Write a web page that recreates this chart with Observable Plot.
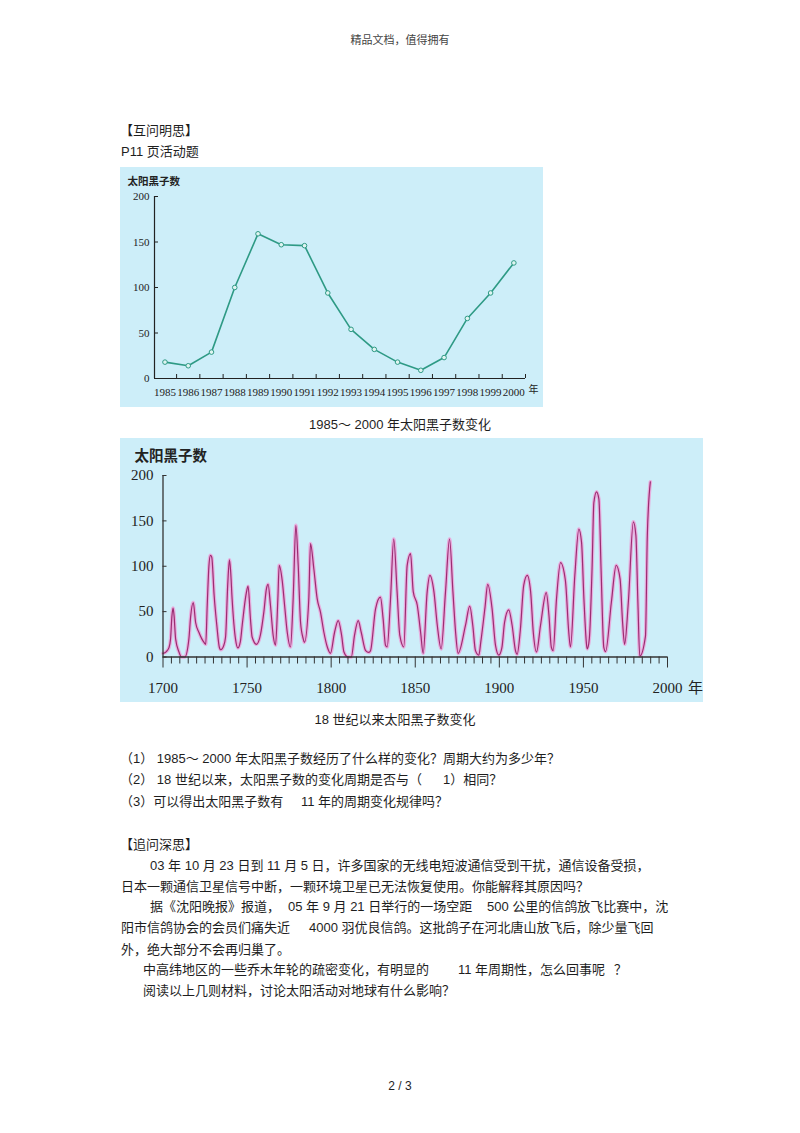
<!DOCTYPE html>
<html>
<head>
<meta charset="utf-8">
<script src="https://cdn.jsdelivr.net/npm/d3@7"></script>
<script src="https://cdn.jsdelivr.net/npm/@observablehq/plot@0.6"></script>
<style>
  html, body { margin: 0; padding: 0; background: #fff; }
  #page { position: relative; width: 800px; height: 1133px; overflow: hidden;
          font-family: "Liberation Sans", "Noto Sans CJK SC", sans-serif; color: #1e1e1e; }
  .t { position: absolute; white-space: pre; font-size: 13px; line-height: 13px; height: 13px; }
  .c { transform: translateX(-50%); }
  #chart1 { position: absolute; left: 120px; top: 167px; }
  #chart2 { position: absolute; left: 120px; top: 438px; }
</style>
</head>
<body>
<div id="page">
  <div class="t c" style="left:400px; top:35px; font-size:11px; line-height:11px; color:#444;">精品文档，值得拥有</div>

  <div class="t" style="left:120px; top:124px;">【互问明思】</div>
  <div class="t" style="left:121px; top:145px;">P11 页活动题</div>

  <div id="chart1"></div>
  <div class="t c" style="left:400px; top:418px;">1985～ 2000 年太阳黑子数变化</div>

  <div id="chart2"></div>
  <div class="t c" style="left:395px; top:713px;">18 世纪以来太阳黑子数变化</div>

  <div class="t" style="left:120px; top:752px;">（1） 1985～ 2000 年太阳黑子数经历了什么样的变化？周期大约为多少年？</div>
  <div class="t" style="left:120px; top:773px;">（2） 18 世纪以来，太阳黑子数的变化周期是否与（</div>
  <div class="t" style="left:443px; top:773px;">1）相同？</div>
  <div class="t" style="left:120px; top:795px;">（3）可以得出太阳黑子数有</div>
  <div class="t" style="left:301px; top:795px;">11 年的周期变化规律吗？</div>

  <div class="t" style="left:120px; top:838px;">【追问深思】</div>
  <div class="t" style="left:150px; top:859px;">03 年 10 月 23 日到 11 月 5 日，许多国家的无线电短波通信受到干扰，通信设备受损，</div>
  <div class="t" style="left:121px; top:880px;">日本一颗通信卫星信号中断，一颗环境卫星已无法恢复使用。你能解释其原因吗？</div>
  <div class="t" style="left:150px; top:900px;">据《沈阳晚报》报道，</div>
  <div class="t" style="left:288px; top:900px;">05 年 9 月 21 日举行的一场空距</div>
  <div class="t" style="left:487px; top:900px;">500 公里的信鸽放飞比赛中，沈</div>
  <div class="t" style="left:121px; top:921px;">阳市信鸽协会的会员们痛失近</div>
  <div class="t" style="left:309px; top:921px;">4000 羽优良信鸽。这批鸽子在河北唐山放飞后，除少量飞回</div>
  <div class="t" style="left:121px; top:943px;">外，绝大部分不会再归巢了。</div>
  <div class="t" style="left:143px; top:963px;">中高纬地区的一些乔木年轮的疏密变化，有明显的</div>
  <div class="t" style="left:458px; top:963px;">11 年周期性，怎么回事呢</div>
  <div class="t" style="left:614px; top:963px;">？</div>
  <div class="t" style="left:143px; top:984px;">阅读以上几则材料，讨论太阳活动对地球有什么影响？</div>

  <div class="t c" style="left:400px; top:1080px; font-size:12px;">2 / 3</div>
</div>

<script>
// ---------- Chart 1 data: 1985–2000 sunspot numbers ----------
const years1 = [1985, 1986, 1987, 1988, 1989, 1990, 1991, 1992, 1993, 1994, 1995, 1996, 1997, 1998, 1999, 2000];
const spots1 = [18, 14, 29, 100, 159, 147, 146, 94, 54, 32, 18, 9, 23, 66, 94, 127];
const yTicks1 = [0, 50, 100, 150, 200];

// ---------- Chart 2 data: sunspot numbers since 1700 ----------
const years2 = [
  1700, 1702, 1703.5, 1704.5, 1705.3, 1706, 1706.6, 1707.5, 1709.5, 1711, 1713,
  1715.4, 1716.4, 1718, 1719.4, 1721.4, 1724.4, 1725.4,
  1726.3, 1727.3, 1728.2, 1729, 1730.4, 1732, 1733.6, 1734.4,
  1736, 1737.2, 1738.5, 1739.5, 1740.2, 1741.1, 1743.1, 1744.5,
  1746, 1747.1, 1749.5, 1750.6, 1752, 1753, 1755.6,
  1758, 1760, 1761.5, 1762.5, 1763.9, 1765.5, 1766.9,
  1768.3, 1769.1, 1770.9, 1772.3, 1773.9, 1775.8,
  1777.4, 1779, 1780.4, 1781.8, 1783.4, 1784.1,
  1786.7, 1787.7, 1789.7, 1791.7, 1793.7, 1795.7, 1797.7, 1799.6,
  1802, 1804.2, 1806.2, 1807.6, 1810, 1812,
  1813.9, 1816.1, 1817.9, 1820.5, 1822.4,
  1823.4, 1826.4, 1829.3, 1830.9, 1832.3, 1833.3,
  1835.3, 1837.2, 1839.2, 1840.8, 1843.2,
  1845.2, 1847.2, 1848.8, 1851.2, 1853.2, 1854.7,
  1857.1, 1858.7, 1861.1, 1863.1, 1865.4,
  1868, 1870.4, 1872.4, 1874, 1875.5,
  1879.9, 1882.4, 1884.2, 1885.8, 1887.8,
  1889, 1891.5, 1893.1, 1895.7, 1897.7, 1899.7,
  1901.5, 1903.1, 1905.6, 1907.6, 1909.6, 1910.6,
  1912.5, 1914.5, 1916.6, 1918.6, 1920.2, 1922.1,
  1924.5, 1927.9, 1929.5, 1930.9, 1932,
  1934, 1936.4, 1939.3, 1941.3, 1942.3,
  1944.9, 1947.3, 1948.9, 1950.3, 1951.9, 1952.3,
  1953.5, 1955.2, 1956.2, 1957.8, 1959.2, 1960.6, 1962.1, 1963.2,
  1966.6, 1969.5, 1971.8, 1973.3, 1974.5,
  1976.7, 1979.7, 1981.2, 1982.4, 1983.5,
  1986.9, 1988, 1989.8
];
const spots2 = [
  4, 6, 10, 20, 45, 54, 45, 20, 5.5, 0, 0,
  20, 44, 60, 38, 27, 16, 14,
  57, 100, 112, 110, 68, 35, 10, 8,
  12, 22, 80, 107, 95, 64, 20, 10,
  17, 35, 70, 78, 42, 22, 14,
  25, 50, 75, 80, 57, 24, 13,
  64, 101, 84, 57, 27, 11,
  64, 145, 101, 38, 20, 16,
  64, 125, 97, 64, 49, 27, 11, 4,
  27, 40, 24, 5.5, 0, 0,
  24, 40, 27, 7, 5,
  7, 53, 66, 42, 13, 11,
  64, 130, 72, 24, 11,
  101, 114, 72, 57, 27, 4,
  72, 90, 72, 35, 9,
  72, 130, 72, 27, 4,
  35, 56, 35, 7, 2,
  17, 55, 80, 53, 13, 2,
  10, 38, 52, 35, 7, 3,
  30, 79, 90, 72, 27, 5.5,
  35, 71, 46, 11, 7,
  64, 104, 84, 27, 11,
  90, 141, 126, 64, 13, 9,
  20, 101, 170, 182, 174, 90, 11, 6,
  60, 101, 86, 38, 14,
  60, 149, 134, 60, 1,
  23, 134, 193
];
const xMajor2 = [1700, 1750, 1800, 1850, 1900, 1950, 2000];
const xMinor2 = d3.range(1705, 2000, 5).filter(d => d % 50 !== 0);
const yTicks2 = [0, 50, 100, 150, 200];

const yLabel = "太阳黑子数";
const yearUnit = "年";

// ---------- Chart 1 ----------
const data1 = years1.map((y, i) => ({year: y, value: spots1[i]}));
const xd1 = [years1[0] - 0.45, years1[years1.length - 1] + 0.5];
const halfYears = years1.map(y => y + 0.5);
const ink = "#222";
const teal = "#2e9a85";

const chart1 = Plot.plot({
  width: 423, height: 240,
  marginLeft: 34, marginRight: 18, marginTop: 29, marginBottom: 29,
  style: {background: "#cdeef9", color: ink, fontFamily: "Liberation Serif, serif", fontSize: "11px"},
  x: {domain: xd1, axis: null},
  y: {domain: [0, 200], axis: null},
  marks: [
    Plot.ruleY([0], {x1: xd1[0], x2: xd1[1], stroke: ink, strokeWidth: 1.2}),
    Plot.ruleX([xd1[0]], {y1: 0, y2: 200, stroke: ink, strokeWidth: 1.2}),
    Plot.axisX(years1, {label: null, tickSize: 0, tickPadding: 10, tickFormat: d => String(d), fontSize: 11}),
    Plot.axisX(halfYears, {label: null, tickSize: 4, dy: -4, tickFormat: () => "", stroke: ink}),
    Plot.axisY(yTicks1, {label: null, tickSize: 0, tickPadding: 5, fontSize: 11}),
    Plot.axisY(yTicks1, {label: null, tickSize: 4, dx: 4, tickFormat: () => "", stroke: ink}),
    Plot.line(data1, {x: "year", y: "value", stroke: teal, strokeWidth: 1.6}),
    Plot.dot(data1, {x: "year", y: "value", r: 2.3, fill: "#dff4f1", stroke: teal, strokeWidth: 1}),
    Plot.text([yLabel], {text: d => d, frameAnchor: "top-left", dx: -27, dy: -15, textAnchor: "start",
      lineAnchor: "middle", fontWeight: "bold", fontFamily: "Noto Sans CJK SC", fontSize: 10.5, fill: ink}),
    Plot.text([yearUnit], {text: d => d, frameAnchor: "bottom-right", dx: 8, dy: 11, textAnchor: "middle",
      lineAnchor: "middle", fontFamily: "Noto Sans CJK SC", fontSize: 10, fill: ink})
  ]
});
document.getElementById("chart1").appendChild(chart1);

// ---------- Chart 2 ----------
const data2 = years2.map((y, i) => ({year: y, value: spots2[i]}));
const chart2 = Plot.plot({
  width: 583, height: 264,
  marginLeft: 42.5, marginRight: 36, marginTop: 37, marginBottom: 45.5,
  style: {background: "#cdeef9", color: ink, fontFamily: "Liberation Serif, serif", fontSize: "15px"},
  x: {domain: [1700, 2000], axis: null},
  y: {domain: [0, 200], axis: null},
  marks: [
    Plot.line(data2, {x: "year", y: "value", curve: "monotone-x", stroke: "#eaa6da", strokeWidth: 3.6, strokeOpacity: 0.9}),
    Plot.line(data2, {x: "year", y: "value", curve: "monotone-x", stroke: "#9c2c72", strokeWidth: 1.2}),
    Plot.ruleY([0], {x1: xMajor2[0], x2: xMajor2[xMajor2.length - 1], stroke: "#333", strokeWidth: 1.3}),
    Plot.ruleX([xMajor2[0]], {y1: 0, y2: 200, stroke: "#333", strokeWidth: 1.3}),
    Plot.axisX(xMinor2, {label: null, tickSize: 7, tickFormat: () => "", stroke: "#333"}),
    Plot.axisX(xMajor2, {label: null, tickSize: 11, tickFormat: () => "", stroke: "#333"}),
    Plot.axisX(xMajor2, {label: null, tickSize: 0, tickPadding: 25, tickFormat: d => String(d), fontSize: 15}),
    Plot.axisY(yTicks2, {label: null, tickSize: 0, tickPadding: 9.5, fontSize: 15}),
    Plot.axisY(yTicks2, {label: null, tickSize: 4, dx: 4, tickFormat: () => "", stroke: "#333"}),
    Plot.text([yLabel], {text: d => d, frameAnchor: "top-left", dx: -28.5, dy: -19, textAnchor: "start",
      lineAnchor: "middle", fontWeight: "bold", fontFamily: "Noto Sans CJK SC", fontSize: 14.5, fill: ink}),
    Plot.text([yearUnit], {text: d => d, frameAnchor: "bottom-right", dx: 28, dy: 31, textAnchor: "middle",
      lineAnchor: "middle", fontFamily: "Noto Sans CJK SC", fontSize: 15, fill: ink})
  ]
});
document.getElementById("chart2").appendChild(chart2);
</script>
</body>
</html>
